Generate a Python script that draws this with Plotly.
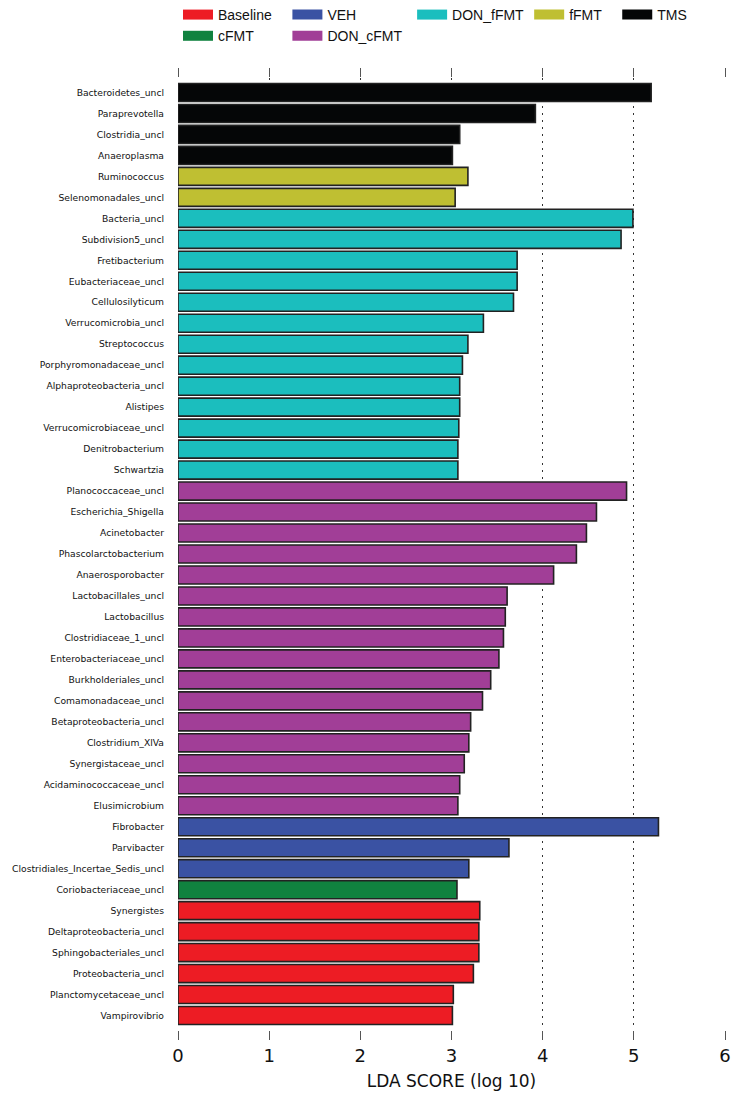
import plotly.graph_objects as go

names = [
    "Bacteroidetes_uncl", "Paraprevotella", "Clostridia_uncl", "Anaeroplasma",
    "Ruminococcus", "Selenomonadales_uncl",
    "Bacteria_uncl", "Subdivision5_uncl", "Fretibacterium", "Eubacteriaceae_uncl",
    "Cellulosilyticum", "Verrucomicrobia_uncl", "Streptococcus", "Porphyromonadaceae_uncl",
    "Alphaproteobacteria_uncl", "Alistipes", "Verrucomicrobiaceae_uncl", "Denitrobacterium",
    "Schwartzia",
    "Planococcaceae_uncl", "Escherichia_Shigella", "Acinetobacter", "Phascolarctobacterium",
    "Anaerosporobacter", "Lactobacillales_uncl", "Lactobacillus", "Clostridiaceae_1_uncl",
    "Enterobacteriaceae_uncl", "Burkholderiales_uncl", "Comamonadaceae_uncl",
    "Betaproteobacteria_uncl", "Clostridium_XlVa", "Synergistaceae_uncl",
    "Acidaminococcaceae_uncl", "Elusimicrobium",
    "Fibrobacter", "Parvibacter", "Clostridiales_Incertae_Sedis_uncl",
    "Coriobacteriaceae_uncl",
    "Synergistes", "Deltaproteobacteria_uncl", "Sphingobacteriales_uncl",
    "Proteobacteria_uncl", "Planctomycetaceae_uncl", "Vampirovibrio",
]
lda = [
    5.19, 3.92, 3.09, 3.01,
    3.18, 3.04,
    4.99, 4.86, 3.72, 3.72,
    3.68, 3.35, 3.18, 3.12,
    3.09, 3.09, 3.08, 3.07,
    3.07,
    4.92, 4.59, 4.48, 4.37,
    4.12, 3.61, 3.59, 3.57,
    3.52, 3.43, 3.34,
    3.21, 3.19, 3.14,
    3.09, 3.07,
    5.27, 3.63, 3.19,
    3.06,
    3.31, 3.30, 3.30,
    3.24, 3.02, 3.01,
]
groups = (["TMS"] * 4 + ["fFMT"] * 2 + ["DON_fFMT"] * 13 + ["DON_cFMT"] * 16
          + ["VEH"] * 3 + ["cFMT"] * 1 + ["Baseline"] * 6)

group_order = ["Baseline", "cFMT", "VEH", "DON_cFMT", "DON_fFMT", "fFMT", "TMS"]
colors = {
    "Baseline": "#ED1C24",
    "cFMT": "#10823F",
    "VEH": "#3A52A3",
    "DON_cFMT": "#A13E97",
    "DON_fFMT": "#1BBEBE",
    "fFMT": "#BFBF32",
    "TMS": "#050607",
}
legend_of = {
    "Baseline": "legend", "cFMT": "legend",
    "VEH": "legend2", "DON_cFMT": "legend2",
    "DON_fFMT": "legend3", "fFMT": "legend4", "TMS": "legend5",
}
xticks = [0, 1, 2, 3, 4, 5, 6]

fig = go.Figure()
for g in group_order:
    ys = [n for n, gg in zip(names, groups) if gg == g]
    xs = [v for v, gg in zip(lda, groups) if gg == g]
    fig.add_trace(go.Bar(
        x=xs, y=ys, orientation="h", name=g, width=0.86,
        marker=dict(color=colors[g], line=dict(color="#222222", width=1.6)),
        showlegend=False, legendgroup=g,
    ))
    # legend-only entry giving a wide rectangular swatch
    fig.add_trace(go.Scatter(
        x=[None], y=[None], mode="lines", name=g, legendgroup=g,
        line=dict(color=colors[g], width=10), legend=legend_of[g], hoverinfo="skip",
    ))
# empty trace to anchor the top (mirrored) tick axis
fig.add_trace(go.Scatter(x=[], y=[], xaxis="x2", yaxis="y", showlegend=False, hoverinfo="skip"))

leg_common = dict(orientation="v", yanchor="top", y=1.083, xanchor="left",
                  font=dict(family="Liberation Sans, Arial, sans-serif", size=14, color="#111"),
                  bgcolor="rgba(0,0,0,0)", tracegroupgap=0, itemwidth=30)
fig.update_layout(
    width=754, height=1096,
    margin=dict(l=170, r=37, t=70, b=74, autoexpand=False),
    plot_bgcolor="white", paper_bgcolor="white",
    barmode="overlay",
    showlegend=True,
    legend=dict(x=0.0, **leg_common),
    legend2=dict(x=0.2, **leg_common),
    legend3=dict(x=0.428, **leg_common),
    legend4=dict(x=0.642, **leg_common),
    legend5=dict(x=0.803, **leg_common),
    font=dict(family="DejaVu Sans", color="#111"),
    xaxis2=dict(overlaying="x", side="top", matches="x", range=[0, 6], tickvals=xticks,
                showticklabels=False, showgrid=False, zeroline=False, showline=False,
                ticks="outside", ticklen=9, tickcolor="#555555"),
)
fig.layout.xaxis.update(
    range=[0, 6], tickvals=xticks, ticktext=[str(t) for t in xticks],
    showline=False, zeroline=False,
    showgrid=True, griddash="2px,5px", gridcolor="#333333", gridwidth=1.3,
    ticks="outside", ticklen=9, tickcolor="#555555",
    tickfont=dict(family="DejaVu Sans", size=18, color="#111"),
    title=dict(text="LDA SCORE (log 10)", font=dict(family="DejaVu Sans", size=17, color="#111"), standoff=10),
)
fig.update_yaxes(
    type="category", categoryorder="array", categoryarray=names,
    range=[len(names) - 0.31, -0.69],
    showline=False, zeroline=False, showgrid=False,
    ticks="", ticklabelstandoff=13,
    tickfont=dict(family="DejaVu Sans", size=9.2, color="#111"),
)
fig.write_html("out.html")
